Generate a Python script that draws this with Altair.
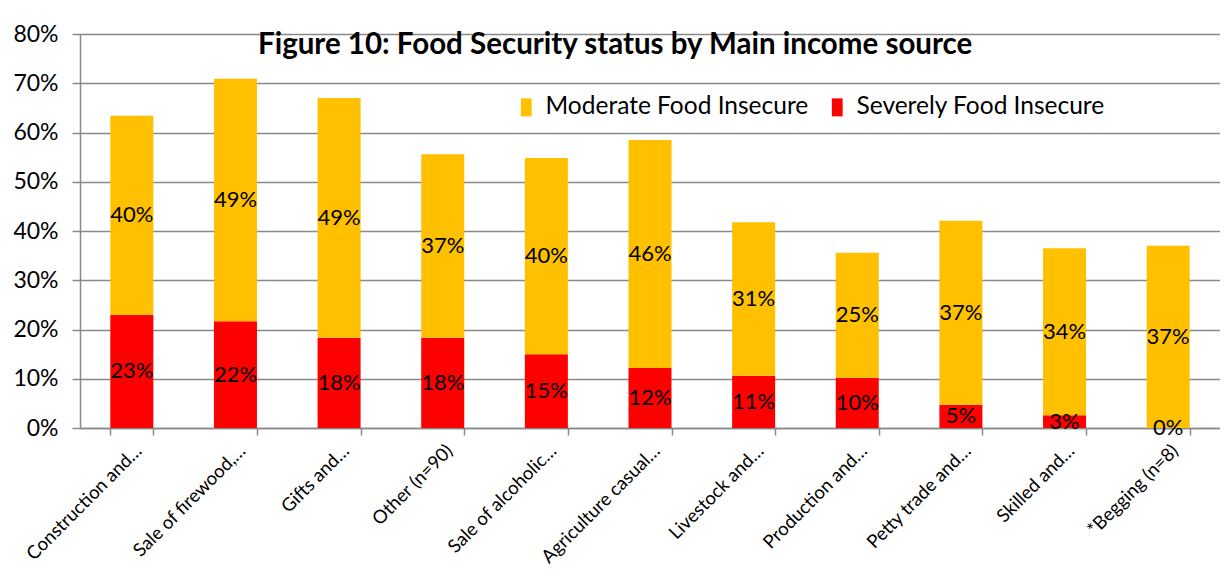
import altair as alt
import pandas as pd

categories = [
    "Construction and…", "Sale of firewood,…", "Gifts and…", "Other (n=90)",
    "Sale of alcoholic…", "Agriculture casual…", "Livestock and…", "Production and…",
    "Petty trade and…", "Skilled and…", "*Begging (n=8)",
]
severe = [23.0, 21.7, 18.3, 18.3, 15.0, 12.2, 10.6, 10.2, 4.7, 2.6, 0.0]
moderate = [40.4, 49.2, 48.7, 37.3, 39.8, 46.3, 31.2, 25.4, 37.4, 33.9, 37.0]
series = ["Moderate Food Insecure", "Severely Food Insecure"]
colors = ["#FFC000", "#FF0000"]
y_ticks = [0, 10, 20, 30, 40, 50, 60, 70, 80]

rows = []
for c, s, m in zip(categories, severe, moderate):
    rows.append({"category": c, "series": series[1], "value": s, "rank": 0})
    rows.append({"category": c, "series": series[0], "value": m, "rank": 1})
df = pd.DataFrame(rows)

FONT = "Lato"

base = alt.Chart(df).transform_stack(
    stack="value", groupby=["category"], as_=["y0", "y1"],
    sort=[alt.SortField("rank", order="ascending")],
).transform_calculate(mid="(datum.y0 + datum.y1) / 2")

x_enc = alt.X(
    "category:N", sort=categories, title=None,
    scale=alt.Scale(paddingInner=0.585, paddingOuter=0.2925),
    axis=alt.Axis(
        labelAngle=-45, labelAlign="right", labelBaseline="top",
        labelFontSize=18.5, labelFont=FONT, labelColor="#000000", labelPadding=6,
        tickBand="extent", tickSize=7, tickColor="#898989", tickWidth=1.5,
        domainColor="#898989", domainWidth=1.5, grid=False, labelLimit=300,
    ),
)

bars = base.mark_bar().encode(
    x=x_enc,
    y=alt.Y(
        "y0:Q", title=None,
        scale=alt.Scale(domain=[0, 80], nice=False),
        axis=alt.Axis(
            values=y_ticks, labelExpr="datum.value + '%'", labelFontSize=23,
            labelFont=FONT, labelColor="#000000", labelPadding=14,
            tickSize=8, tickColor="#898989", tickWidth=1.5,
            domainColor="#898989", domainWidth=1.5,
            gridColor="#898989", gridWidth=1.5,
        ),
    ),
    y2="y1:Q",
    color=alt.Color(
        "series:N",
        scale=alt.Scale(domain=series, range=colors),
        legend=alt.Legend(
            title=None, orient="none", direction="horizontal",
            legendX=434, legendY=61, labelFontSize=24.5, labelFont=FONT,
            labelColor="#000000", symbolType="M-0.6,-1H0.6V1H-0.6Z",
            symbolSize=324, symbolStrokeWidth=0, symbolOpacity=1,
            columnPadding=16, labelOffset=7, labelLimit=400,
        ),
    ),
)

labels = base.mark_text(fontSize=22, font=FONT, color="#000000").transform_calculate(
    label="format(datum.value, '.0f') + '%'"
).encode(
    x=alt.X("category:N", sort=categories),
    y=alt.Y("mid:Q"),
    text="label:N",
)

chart = alt.layer(bars, labels).properties(
    width=1140,
    height=394,
    autosize=alt.AutoSizeParams(type="none"),
    padding={"left": 72, "top": 26, "right": 0, "bottom": 150},
    title=alt.TitleParams(
        "Figure 10: Food Security status by Main income source",
        anchor="start", frame="group", dx=178, dy=41, fontSize=29.5,
        font=FONT, fontWeight="bold", color="#000000",
    ),
).configure_view(stroke=None)

chart.save("out.html", embed_options={"renderer": "svg", "actions": False})
